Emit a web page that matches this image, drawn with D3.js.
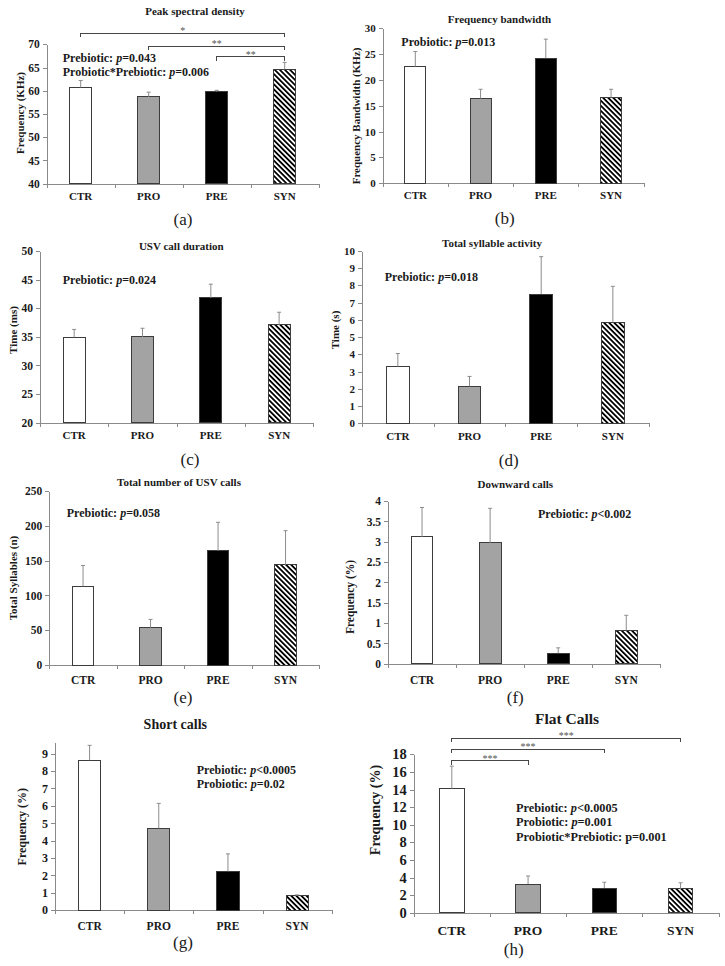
<!DOCTYPE html>
<html lang="en">
<head>
<meta charset="UTF-8">
<title>USV call panels</title>
<script src="https://d3js.org/d3.v7.min.js"></script>
<style>
  body { margin: 0; background: #fff; }
  svg text { font-family: "Liberation Serif", "Times New Roman", serif; fill: #1a1a1a; }
  .axis path, .axis line { stroke: #8a8a8a; shape-rendering: crispEdges; }
  .axis text { font-weight: bold; fill: #1a1a1a; }
  .bar { stroke: #3c3c3c; stroke-width: 1; shape-rendering: crispEdges; }
  .whisker { stroke: #8c8c8c; stroke-width: 1; fill: none; }
  .bracket { stroke: #474747; stroke-width: 1; fill: none; shape-rendering: crispEdges; }
  .star { fill: #555; }
</style>
</head>
<body>
<div id="fig"></div>
<script>
const categories = ["CTR", "PRO", "PRE", "SYN"];

// (a) Peak spectral density
const peakMean = [60.7, 58.7, 59.8, 64.6];
const peakErr = [1.5, 1.0, 0.3, 1.5];
const peakTicks = [40, 45, 50, 55, 60, 65, 70];
const peakSig = [[0, 3, "*"], [1, 3, "**"], [2, 3, "**"]];

// (b) Frequency bandwidth
const bandMean = [22.6, 16.4, 24.2, 16.6];
const bandErr = [2.9, 1.8, 3.7, 1.6];
const bandTicks = [0, 5, 10, 15, 20, 25, 30];

// (c) USV call duration
const durMean = [34.9, 35.0, 41.8, 37.1];
const durErr = [1.4, 1.5, 2.4, 2.2];
const durTicks = [20, 25, 30, 35, 40, 45, 50];

// (d) Total syllable activity
const actMean = [3.3, 2.15, 7.5, 5.85];
const actErr = [0.75, 0.57, 2.17, 2.1];
const actTicks = [0, 1, 2, 3, 4, 5, 6, 7, 8, 9, 10];

// (e) Total number of USV calls
const callsMean = [113, 53.5, 164, 144];
const callsErr = [30, 12, 41, 49];
const callsTicks = [0, 50, 100, 150, 200, 250];

// (f) Downward calls
const downMean = [3.12, 2.97, 0.26, 0.82];
const downErr = [0.72, 0.85, 0.13, 0.37];
const downTicks = [0, 0.5, 1, 1.5, 2, 2.5, 3, 3.5, 4];

// (g) Short calls
const shortMean = [8.62, 4.70, 2.23, 0.82];
const shortErr = [0.86, 1.44, 1.0, 0.05];
const shortTicks = [0, 1, 2, 3, 4, 5, 6, 7, 8, 9];

// (h) Flat calls
const flatMean = [14.1, 3.25, 2.8, 2.72];
const flatErr = [2.55, 0.92, 0.66, 0.68];
const flatTicks = [0, 2, 4, 6, 8, 10, 12, 14, 16, 18];
const flatSig = [[0, 3, "***"], [0, 2, "***"], [0, 1, "***"]];

const fills = ["#ffffff", "#a3a3a3", "#000000", "url(#hatch)"];

// layout of each panel on the page (px)
const panels = [
  { tag: "(a)", title: "Peak spectral density", ylab: "Frequency (KHz)", mean: peakMean, err: peakErr, ticks: peakTicks,
    stats: ["Prebiotic: _p_=0.043", "Probiotic*Prebiotic: _p_=0.006"], sig: peakSig,
    left: 46.7, right: 318.7, top: 44.3, bottom: 183.7, yMax: 70,
    titleX: 195, titleY: 15, ylabX: 20, ylabY: 113, statX: 62.7, statY: [61.7, 76], catDy: 16.6,
    tagX: 183, tagY: 225, sigY: [33.3, 46, 56.7], fs: { title: 11, tick: 11.5, cat: 11, ylab: 11, stat: 12 } },
  { tag: "(b)", title: "Frequency bandwidth", ylab: "Frequency Bandwidth (KHz)", mean: bandMean, err: bandErr, ticks: bandTicks,
    stats: ["Probiotic: _p_=0.013"],
    left: 382.7, right: 643.7, top: 28.3, bottom: 183.3, yMax: 30,
    titleX: 499.5, titleY: 22.5, ylabX: 356, ylabY: 116, statX: 401.3, statY: [45.7], catDy: 15.3,
    tagX: 504.7, tagY: 224, fs: { title: 11, tick: 11, cat: 11, ylab: 11, stat: 12 } },
  { tag: "(c)", title: "USV call duration", ylab: "Time (ms)", mean: durMean, err: durErr, ticks: durTicks,
    stats: ["Prebiotic: _p_=0.024"],
    left: 40, right: 313.3, top: 251, bottom: 422.7, yMax: 50,
    titleX: 181.3, titleY: 250, ylabX: 13.5, ylabY: 330, statX: 62.7, statY: [284.3], catDy: 16,
    tagX: 190, tagY: 465, fs: { title: 11, tick: 11.5, cat: 11, ylab: 11, stat: 12 } },
  { tag: "(d)", title: "Total syllable activity", ylab: "Time (s)", mean: actMean, err: actErr, ticks: actTicks,
    stats: ["Prebiotic: _p_=0.018"],
    left: 362, right: 648.7, top: 251, bottom: 423.3, yMax: 10,
    titleX: 492, titleY: 246.5, ylabX: 335, ylabY: 330, statX: 384.7, statY: [280.7], catDy: 16.7,
    tagX: 508.7, tagY: 466, fs: { title: 11, tick: 11, cat: 11, ylab: 11, stat: 12 } },
  { tag: "(e)", title: "Total number of USV calls", ylab: "Total Syllables (n)", mean: callsMean, err: callsErr, ticks: callsTicks,
    stats: ["Prebiotic: _p_=0.058"],
    left: 49.3, right: 319.3, top: 491, bottom: 665, yMax: 250,
    titleX: 179, titleY: 486, ylabX: 13.5, ylabY: 578, statX: 66.7, statY: [516.7], catDy: 18.6,
    tagX: 183, tagY: 703, fs: { title: 11, tick: 11.5, cat: 11.5, ylab: 11, stat: 12 } },
  { tag: "(f)", title: "Downward calls", ylab: "Frequency (%)", mean: downMean, err: downErr, ticks: downTicks,
    stats: ["Prebiotic: _p_<0.002"],
    left: 388, right: 660.3, top: 501, bottom: 663.7, yMax: 4,
    titleX: 515.3, titleY: 488, ylabX: 350, ylabY: 597, statX: 538, statY: [518.3], catDy: 20,
    tagX: 515.3, tagY: 703, fs: { title: 11, tick: 11.5, cat: 11.5, ylab: 11.5, stat: 12 } },
  { tag: "(g)", title: "Short calls", ylab: "Frequency (%)", mean: shortMean, err: shortErr, ticks: shortTicks,
    stats: ["Prebiotic: _p_<0.0005", "Probiotic: _p_=0.02"],
    left: 55, right: 331.7, top: 742.4, bottom: 910, yMax: 9.65,
    titleX: 175.3, titleY: 728.5, ylabX: 21.7, ylabY: 826.7, statX: 196.7, statY: [774.3, 788.3], catDy: 20.3,
    tagX: 183, tagY: 948, fs: { title: 14, tick: 12, cat: 11.5, ylab: 12, stat: 12 } },
  { tag: "(h)", title: "Flat Calls", ylab: "Frequency (%)", mean: flatMean, err: flatErr, ticks: flatTicks,
    stats: ["Prebiotic: _p_<0.0005", "Probiotic: _p_=0.001", "Probiotic*Prebiotic: p=0.001"], sig: flatSig,
    left: 413.7, right: 718.7, top: 754.3, bottom: 912.7, yMax: 18,
    titleX: 567, titleY: 723.5, ylabX: 375.3, ylabY: 810, statX: 516, statY: [811.7, 826, 840.7], catDy: 22.3,
    tagX: 513.7, tagY: 955, sigY: [738.3, 749.3, 760.7], fs: { title: 15.5, tick: 14.5, cat: 13.5, ylab: 14, stat: 12.3 } }
];

const svg = d3.select("#fig").append("svg")
  .attr("width", 725)
  .attr("height", 966);

const defs = svg.append("defs");
const hatch = defs.append("pattern")
  .attr("id", "hatch")
  .attr("patternUnits", "userSpaceOnUse")
  .attr("width", 3.6)
  .attr("height", 3.6)
  .attr("patternTransform", "rotate(-45)");
hatch.append("rect").attr("width", 3.6).attr("height", 3.6).attr("fill", "#fff");
hatch.append("rect").attr("width", 1.8).attr("height", 3.6).attr("fill", "#000");

// text with "_p_" segments set in italics
function richText(sel, str) {
  str.split("_").forEach(function (part, i) {
    if (!part) return;
    sel.append("tspan")
      .style("font-style", i % 2 ? "italic" : "normal")
      .text(part);
  });
}

function drawPanel(p) {
  const g = svg.append("g");

  const y = d3.scaleLinear()
    .domain([p.ticks[0], p.yMax])
    .range([p.bottom, p.top]);

  const x = d3.scaleBand()
    .domain(categories)
    .range([p.left, p.right]);

  const xEdges = d3.scaleLinear()
    .domain([0, categories.length])
    .range([p.left, p.right]);

  const cx = d => x(d) + x.bandwidth() / 2;
  const bw = x.bandwidth() * 0.32;

  // y axis
  g.append("g")
    .attr("class", "axis")
    .attr("transform", "translate(" + p.left + ",0)")
    .call(d3.axisLeft(y).tickValues(p.ticks).tickFormat(d => String(d))
      .tickSize(4).tickSizeOuter(0).tickPadding(3))
    .selectAll("text")
    .style("font-size", p.fs.tick + "px");

  // x axis, ticks between groups
  g.append("g")
    .attr("class", "axis")
    .attr("transform", "translate(0," + p.bottom + ")")
    .call(d3.axisBottom(xEdges).tickValues(d3.range(categories.length + 1))
      .tickFormat("").tickSize(4).tickSizeOuter(0));

  // bars
  g.selectAll(".bar")
    .data(categories)
    .join("rect")
    .attr("class", "bar")
    .attr("x", d => cx(d) - bw / 2)
    .attr("y", (d, i) => y(p.mean[i]))
    .attr("width", bw)
    .attr("height", (d, i) => p.bottom - y(p.mean[i]))
    .attr("fill", (d, i) => fills[i]);

  // error whiskers
  g.selectAll(".whisker")
    .data(categories)
    .join("path")
    .attr("class", "whisker")
    .attr("d", function (d, i) {
      const x0 = cx(d), yb = y(p.mean[i]), yt = y(p.mean[i] + p.err[i]);
      return "M" + x0 + "," + yb + "V" + yt + "M" + (x0 - 2) + "," + yt + "H" + (x0 + 2);
    });

  // category labels
  g.selectAll(".cat")
    .data(categories)
    .join("text")
    .attr("class", "cat")
    .attr("x", cx)
    .attr("y", p.bottom + p.catDy)
    .attr("text-anchor", "middle")
    .style("font-weight", "bold")
    .style("font-size", p.fs.cat + "px")
    .text(d => d);

  // title
  g.append("text")
    .attr("x", p.titleX)
    .attr("y", p.titleY)
    .attr("text-anchor", "middle")
    .style("font-weight", "bold")
    .style("font-size", p.fs.title + "px")
    .text(p.title);

  // y label
  g.append("text")
    .attr("transform", "translate(" + p.ylabX + "," + p.ylabY + ") rotate(-90)")
    .attr("text-anchor", "middle")
    .attr("dy", "0.35em")
    .style("font-weight", "bold")
    .style("font-size", p.fs.ylab + "px")
    .text(p.ylab);

  // statistics
  p.stats.forEach(function (s, i) {
    const t = g.append("text")
      .attr("x", p.statX)
      .attr("y", p.statY[i])
      .style("font-weight", "bold")
      .style("font-size", p.fs.stat + "px");
    richText(t, s);
  });

  // significance brackets
  if (p.sig) {
    p.sig.forEach(function (s, i) {
      const xa = cx(categories[s[0]]), xb = cx(categories[s[1]]), yy = p.sigY[i];
      g.append("path")
        .attr("class", "bracket")
        .attr("d", "M" + xa + "," + (yy + 4) + "V" + yy + "H" + xb + "V" + (yy + 4));
      g.append("text")
        .attr("class", "star")
        .attr("x", (xa + xb) / 2)
        .attr("y", yy + 1)
        .attr("text-anchor", "middle")
        .style("font-size", "10px")
        .text(s[2]);
    });
  }

  // panel tag
  g.append("text")
    .attr("x", p.tagX)
    .attr("y", p.tagY)
    .attr("text-anchor", "middle")
    .style("font-size", "17px")
    .text(p.tag);
}

panels.forEach(drawPanel);
</script>
</body>
</html>
